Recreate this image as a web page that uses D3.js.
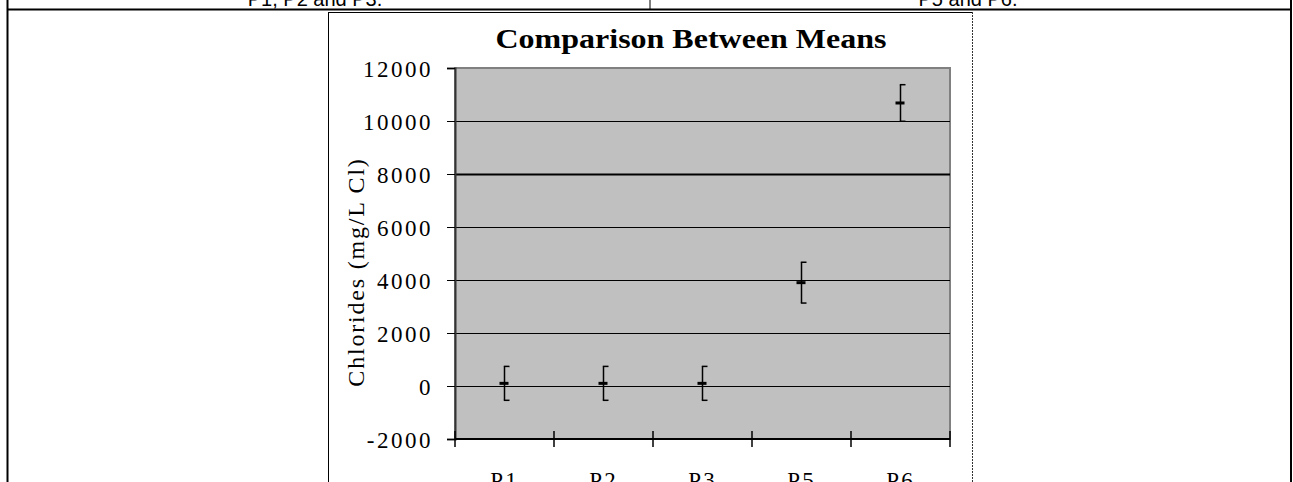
<!DOCTYPE html>
<html>
<head>
<meta charset="utf-8">
<script src="https://cdn.jsdelivr.net/npm/d3@7"></script>
<style>
  body { margin: 0; background: #fff; overflow: hidden; }
  svg { display: block; }
  .serif { font-family: "Liberation Serif", "Times New Roman", serif; fill: #000; }
  .sans { font-family: "Liberation Sans", Arial, sans-serif; fill: #000; }
</style>
</head>
<body>
<svg id="chart" width="1293" height="482"></svg>
<script>
// chart values
var categories = ["P1", "P2", "P3", "P5", "P6"];
var means = [100, 100, 100, 3900, 10680];
var errors = [640, 640, 640, 770, 690];
var yTicks = [-2000, 0, 2000, 4000, 6000, 8000, 10000, 12000];
var headerTexts = ["P1, P2 and P3.", "P5 and P6."];

var svg = d3.select("#chart");

// page table lines around the figure
svg.append("line").attr("x1", 7).attr("x2", 1291).attr("y1", 9.5).attr("y2", 9.5)
    .attr("stroke", "#000").attr("stroke-width", 2);
svg.append("line").attr("x1", 7.5).attr("x2", 7.5).attr("y1", 0).attr("y2", 482)
    .attr("stroke", "#000").attr("stroke-width", 2);
svg.append("line").attr("x1", 1291).attr("x2", 1291).attr("y1", 0).attr("y2", 482)
    .attr("stroke", "#000").attr("stroke-width", 2);
svg.append("line").attr("x1", 650).attr("x2", 650).attr("y1", 0).attr("y2", 9)
    .attr("stroke", "#000").attr("stroke-width", 1);

svg.selectAll("text.header")
    .data(headerTexts)
  .enter().append("text")
    .attr("class", "header sans")
    .attr("x", function(d, i) { return i == 0 ? 315 : 968; })
    .attr("y", 6)
    .attr("text-anchor", "middle")
    .style("font-size", "20px")
    .text(function(d) { return d; });

// chart frame
svg.append("line").attr("x1", 328.5).attr("x2", 328.5).attr("y1", 12).attr("y2", 482)
    .attr("stroke", "#000").attr("stroke-width", 1);
svg.append("line").attr("x1", 328).attr("x2", 972).attr("y1", 12.5).attr("y2", 12.5)
    .attr("stroke", "#000").attr("stroke-width", 1);
svg.append("line").attr("x1", 972.5).attr("x2", 972.5).attr("y1", 12).attr("y2", 482)
    .attr("stroke", "#333").attr("stroke-width", 1).attr("stroke-dasharray", "2,1");

var margin = {top: 68, right: 343, bottom: 43, left: 455},
    width = 1293 - margin.left - margin.right,
    height = 482 - margin.top - margin.bottom;

var x = d3.scaleBand().domain(categories).range([0, width]);
var y = d3.scaleLinear().domain([-2000, 12000]).range([height, 0]);

var g = svg.append("g")
    .attr("transform", "translate(" + margin.left + "," + margin.top + ")");

// plot area
g.append("rect")
    .attr("x", 0).attr("y", 0)
    .attr("width", width).attr("height", height)
    .attr("fill", "#c0c0c0")
    .attr("stroke", "#808080").attr("stroke-width", 2);

// gridlines
g.selectAll("line.grid")
    .data(yTicks.filter(function(d) { return d > -2000 && d < 12000; }))
  .enter().append("line")
    .attr("class", "grid")
    .attr("x1", 0).attr("x2", width)
    .attr("y1", function(d) { return Math.round(y(d)) + 0.5; })
    .attr("y2", function(d) { return Math.round(y(d)) + 0.5; })
    .attr("stroke", "#000")
    .attr("stroke-width", function(d) { return d == 8000 ? 2 : 1; });

// y axis
var yAxis = g.append("g")
    .call(d3.axisLeft(y).tickValues(yTicks).tickSize(8).tickFormat(function(d) { return String(d); }));
yAxis.select(".domain").attr("stroke", "#333").attr("stroke-width", 2);
yAxis.selectAll(".tick line").attr("stroke", "#000");
yAxis.selectAll(".tick text")
    .attr("class", "serif")
    .attr("x", -22)
    .attr("dy", "0.36em")
    .style("font-size", "23px")
    .style("letter-spacing", "2.5px")
    .attr("fill", "#000");

// x axis: ticks at band boundaries crossing the axis line
var xAxis = g.append("g").attr("transform", "translate(0," + height + ")");
xAxis.append("line").attr("x1", 0).attr("x2", width).attr("y1", 0).attr("y2", 0)
    .attr("stroke", "#000").attr("stroke-width", 2);
var bounds = categories.map(function(c) { return x(c); }).concat([width]);
xAxis.selectAll("line.tick")
    .data(bounds)
  .enter().append("line")
    .attr("class", "tick")
    .attr("x1", function(d) { return d; }).attr("x2", function(d) { return d; })
    .attr("y1", -8).attr("y2", 8)
    .attr("stroke", "#000").attr("stroke-width", 1.5);
xAxis.selectAll("text")
    .data(categories)
  .enter().append("text")
    .attr("class", "serif")
    .attr("x", function(d) { return x(d) + x.bandwidth() / 2; })
    .attr("y", 49)
    .attr("text-anchor", "middle")
    .style("font-size", "23px")
    .style("letter-spacing", "2px")
    .text(function(d) { return d; });

// error bars and means
var pts = g.selectAll("g.pt")
    .data(categories)
  .enter().append("g")
    .attr("class", "pt")
    .attr("transform", function(d) { return "translate(" + (x(d) + x.bandwidth() / 2) + ",0)"; });

pts.append("line")
    .attr("x1", 0).attr("x2", 0)
    .attr("y1", function(d, i) { return y(means[i] + errors[i]); })
    .attr("y2", function(d, i) { return y(means[i] - errors[i]); })
    .attr("stroke", "#000").attr("stroke-width", 1.5);
pts.append("line")
    .attr("x1", -0.7).attr("x2", 5)
    .attr("y1", function(d, i) { return y(means[i] + errors[i]); })
    .attr("y2", function(d, i) { return y(means[i] + errors[i]); })
    .attr("stroke", "#000").attr("stroke-width", 1.5);
pts.append("line")
    .attr("x1", -0.7).attr("x2", 5)
    .attr("y1", function(d, i) { return y(means[i] - errors[i]); })
    .attr("y2", function(d, i) { return y(means[i] - errors[i]); })
    .attr("stroke", "#000").attr("stroke-width", 1.5);
pts.append("line")
    .attr("x1", -5).attr("x2", 4)
    .attr("y1", function(d, i) { return y(means[i]); })
    .attr("y2", function(d, i) { return y(means[i]); })
    .attr("stroke", "#000").attr("stroke-width", 3);

// title
svg.append("text")
    .attr("class", "serif")
    .attr("x", 691).attr("y", 48)
    .attr("text-anchor", "middle")
    .attr("textLength", 391)
    .attr("lengthAdjust", "spacingAndGlyphs")
    .style("font-size", "28px")
    .style("font-weight", "bold")
    .text("Comparison Between Means");

// y axis title
svg.append("text")
    .attr("class", "serif")
    .attr("transform", "translate(364,272) rotate(-90)")
    .attr("text-anchor", "middle")
    .style("font-size", "24px")
    .style("letter-spacing", "1.8px")
    .text("Chlorides (mg/L Cl)");
</script>
</body>
</html>
